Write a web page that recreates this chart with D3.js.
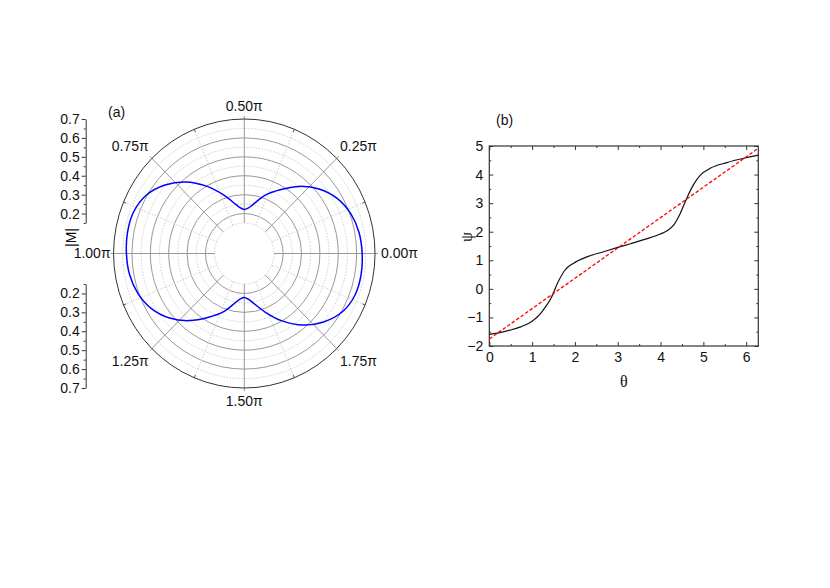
<!DOCTYPE html>
<html>
<head>
<meta charset="utf-8">
<script src="https://cdn.jsdelivr.net/npm/d3@7"></script>
<style>
  html, body { margin: 0; padding: 0; background: #fff; }
  svg { display: block; font-family: "Liberation Sans", Arial, sans-serif; }
</style>
</head>
<body>
<div id="chart"></div>
<script>
// (a) polar |M| vs angle, degrees -> |M|
const polarAngles = [0, 10, 20, 30, 40, 50, 60, 70, 80, 85, 90, 95, 100, 110, 120, 130, 140, 150, 160, 170,
                     180, 190, 200, 210, 220, 230, 240, 250, 260, 265, 270, 275, 280, 290, 300, 310, 320, 330, 340, 350];
const polarM = [0.630, 0.623, 0.605, 0.572, 0.520, 0.452, 0.378, 0.316, 0.250, 0.230, 0.222, 0.231, 0.252, 0.318, 0.400, 0.483, 0.552, 0.605, 0.630, 0.634,
                0.630, 0.623, 0.605, 0.572, 0.520, 0.452, 0.378, 0.316, 0.250, 0.230, 0.222, 0.231, 0.252, 0.318, 0.400, 0.483, 0.552, 0.605, 0.630, 0.634];
const radialTicks = [0.2, 0.3, 0.4, 0.5, 0.6, 0.7];
const radialMinor = [0.15, 0.25, 0.35, 0.45, 0.55, 0.65];
const angleLabels = ["0.00π", "0.25π", "0.50π", "0.75π", "1.00π", "1.25π", "1.50π", "1.75π"];

// (b) psi vs theta
const thetaVals = [0, 0.25, 0.5, 0.75, 0.9, 1.0, 1.1, 1.2, 1.3, 1.45, 1.6, 1.77, 1.97, 2.28, 2.67, 3.0, 3.3, 3.65, 4.0, 4.15, 4.3, 4.46, 4.62, 4.77, 4.93, 5.16, 5.55, 5.94, 6.283];
const psiVals = [-1.59, -1.53, -1.44, -1.32, -1.22, -1.13, -1.01, -0.86, -0.66, -0.3, 0.22, 0.66, 0.9, 1.12, 1.30, 1.45, 1.58, 1.74, 1.92, 2.03, 2.22, 2.64, 3.2, 3.65, 3.98, 4.22, 4.42, 4.57, 4.68];
const fitTheta = [0, 2 * Math.PI];
const fitPsi = [-1.755, 4.92];
const xTicks = [0, 1, 2, 3, 4, 5, 6];
const yTicks = [-2, -1, 0, 1, 2, 3, 4, 5];

const width = 830, height = 588;
const fontSize = "14px";
const svg = d3.select("#chart").append("svg")
    .attr("width", width)
    .attr("height", height);

// ---------- (a) polar ----------
const cx = 244.3, cy = 253.5, sx = 0.972;
const r = d3.scaleLinear().domain([0.15, 0.7]).range([30.5, 134.5]);
const R = r(0.7);

const polar = svg.append("g").attr("transform", `translate(${cx},${cy}) scale(${sx},1)`);

// grid circles
polar.append("g").selectAll("circle")
    .data(radialMinor)
    .join("circle")
    .attr("r", d => r(d))
    .attr("fill", "none")
    .attr("stroke", "#cfcfcf")
    .attr("stroke-dasharray", "1.5,1.5")
    .attr("vector-effect", "non-scaling-stroke");

polar.append("g").selectAll("circle")
    .data(radialTicks.slice(0, -1))
    .join("circle")
    .attr("r", d => r(d))
    .attr("fill", "none")
    .attr("stroke", "#999")
    .attr("vector-effect", "non-scaling-stroke");

// spokes
const majorAngles = d3.range(8).map(i => i * Math.PI / 4);
const minorAngles = d3.range(8).map(i => i * Math.PI / 4 + Math.PI / 8);

polar.append("g").selectAll("line")
    .data(minorAngles)
    .join("line")
    .attr("x1", a => r(0.15) * Math.cos(a)).attr("y1", a => -r(0.15) * Math.sin(a))
    .attr("x2", a => R * Math.cos(a)).attr("y2", a => -R * Math.sin(a))
    .attr("stroke", "#cfcfcf")
    .attr("stroke-dasharray", "1.5,1.5")
    .attr("vector-effect", "non-scaling-stroke");

polar.append("g").selectAll("line")
    .data(majorAngles)
    .join("line")
    .attr("x1", a => r(0.15) * Math.cos(a)).attr("y1", a => -r(0.15) * Math.sin(a))
    .attr("x2", a => (R + 3) * Math.cos(a)).attr("y2", a => -(R + 3) * Math.sin(a))
    .attr("stroke", "#999")
    .attr("vector-effect", "non-scaling-stroke");

// minor ticks on outer circle
polar.append("g").selectAll("line")
    .data(minorAngles)
    .join("line")
    .attr("x1", a => (R - 3) * Math.cos(a)).attr("y1", a => -(R - 3) * Math.sin(a))
    .attr("x2", a => R * Math.cos(a)).attr("y2", a => -R * Math.sin(a))
    .attr("stroke", "#555")
    .attr("vector-effect", "non-scaling-stroke");

polar.append("circle")
    .attr("r", R)
    .attr("fill", "none")
    .attr("stroke", "#333")
    .attr("vector-effect", "non-scaling-stroke");

// |M| curve
const radial = d3.lineRadial()
    .angle(d => Math.PI / 2 - d.a * Math.PI / 180)
    .radius(d => r(d.m))
    .curve(d3.curveCatmullRomClosed);

polar.append("path")
    .datum(polarAngles.map((a, i) => ({ a, m: polarM[i] })))
    .attr("d", radial)
    .attr("fill", "none")
    .attr("stroke", "#0000ff")
    .attr("stroke-width", 1.5)
    .attr("vector-effect", "non-scaling-stroke");

// angle labels
svg.append("g")
    .attr("font-size", fontSize)
    .attr("fill", "#111")
    .selectAll("text")
    .data(angleLabels)
    .join("text")
    .each(function (d, i) {
        const a = i * Math.PI / 4;
        const c = Math.round(Math.cos(a) * 100) / 100, s = Math.round(Math.sin(a) * 100) / 100;
        const t = d3.select(this);
        if (s === 0) {
            t.attr("x", cx + c * (R * sx + (c > 0 ? 6 : 3))).attr("y", cy).attr("dy", "0.35em")
             .attr("text-anchor", c > 0 ? "start" : "end");
        } else if (c === 0) {
            t.attr("x", cx).attr("y", cy - s * (R + 13)).attr("dy", "0.35em")
             .attr("text-anchor", "middle");
        } else {
            t.attr("x", cx + c * (R * sx + 30)).attr("y", cy - s * (R + 17)).attr("dy", "0.35em")
             .attr("text-anchor", "middle");
        }
    })
    .text(d => d);

// radial axes on the left
const axX = 85.7;
const upper = d3.scaleLinear().domain([0.15, 0.7]).range([cy - r(0.15), cy - R]);
const lower = d3.scaleLinear().domain([0.15, 0.7]).range([cy + r(0.15), cy + R]);

[upper, lower].forEach(sc => {
    const g = svg.append("g").attr("transform", `translate(${axX},0)`);
    g.call(d3.axisLeft(sc).tickValues(radialTicks).tickFormat(d3.format(".1f")).tickSize(4).tickSizeOuter(0).tickPadding(2));
    g.append("g").call(d3.axisLeft(sc).tickValues(radialMinor).tickFormat("").tickSize(2).tickSizeOuter(0))
        .call(g => g.select(".domain").remove());
    g.selectAll("path, line").attr("stroke", "#333");
    g.selectAll("text").attr("font-size", fontSize).attr("font-family", "Liberation Sans, Arial, sans-serif").attr("fill", "#111");
});

svg.append("text")
    .attr("transform", `translate(76,${cy - 16}) rotate(-90)`)
    .attr("text-anchor", "middle")
    .attr("font-size", fontSize)
    .attr("fill", "#111")
    .text("|M|");

svg.append("text")
    .attr("x", 108).attr("y", 117)
    .attr("font-size", fontSize)
    .attr("fill", "#111")
    .text("(a)");

// ---------- (b) psi(theta) ----------
const x = d3.scaleLinear().domain([0, 2 * Math.PI]).range([489.3, 758.3]);
const y = d3.scaleLinear().domain([-2, 5]).range([346, 146]);
const [x0, x1] = x.range();
const [y0, y1] = y.range();

const xMinor = d3.range(0.5, 6.3, 1);
const yMinor = d3.range(-1.5, 5, 1);

function styleAxis(g) {
    g.select(".domain").remove();
    g.selectAll("line").attr("stroke", "#333");
    g.selectAll("text").attr("font-size", fontSize).attr("font-family", "Liberation Sans, Arial, sans-serif").attr("fill", "#111");
}

svg.append("g").attr("transform", `translate(0,${y0})`)
    .call(d3.axisBottom(x).tickValues(xTicks).tickFormat(d3.format("d")).tickSize(-4).tickPadding(6))
    .call(styleAxis);
svg.append("g").attr("transform", `translate(0,${y0})`)
    .call(d3.axisBottom(x).tickValues(xMinor).tickFormat("").tickSize(-2))
    .call(styleAxis);
svg.append("g").attr("transform", `translate(0,${y1})`)
    .call(d3.axisTop(x).tickValues(xTicks).tickFormat("").tickSize(-4))
    .call(styleAxis);
svg.append("g").attr("transform", `translate(0,${y1})`)
    .call(d3.axisTop(x).tickValues(xMinor).tickFormat("").tickSize(-2))
    .call(styleAxis);

svg.append("g").attr("transform", `translate(${x0},0)`)
    .call(d3.axisLeft(y).tickValues(yTicks).tickFormat(d3.format("d")).tickSize(-4).tickPadding(6))
    .call(styleAxis);
svg.append("g").attr("transform", `translate(${x0},0)`)
    .call(d3.axisLeft(y).tickValues(yMinor).tickFormat("").tickSize(-2))
    .call(styleAxis);
svg.append("g").attr("transform", `translate(${x1},0)`)
    .call(d3.axisRight(y).tickValues(yTicks).tickFormat("").tickSize(-4))
    .call(styleAxis);
svg.append("g").attr("transform", `translate(${x1},0)`)
    .call(d3.axisRight(y).tickValues(yMinor).tickFormat("").tickSize(-2))
    .call(styleAxis);

svg.append("rect")
    .attr("x", x0).attr("y", y1)
    .attr("width", x1 - x0).attr("height", y0 - y1)
    .attr("fill", "none")
    .attr("stroke", "#333")
    .attr("stroke-width", 1.2);

const line = d3.line()
    .x(d => x(d[0]))
    .y(d => y(d[1]))
    .curve(d3.curveMonotoneX);

svg.append("path")
    .datum(thetaVals.map((t, i) => [t, psiVals[i]]))
    .attr("d", line)
    .attr("fill", "none")
    .attr("stroke", "#111")
    .attr("stroke-width", 1.2);

svg.append("path")
    .datum(fitTheta.map((t, i) => [t, fitPsi[i]]))
    .attr("d", d3.line().x(d => x(d[0])).y(d => y(d[1])))
    .attr("fill", "none")
    .attr("stroke", "#ff0000")
    .attr("stroke-width", 1.3)
    .attr("stroke-dasharray", "3.5,2");

svg.append("text")
    .attr("x", (x0 + x1) / 2).attr("y", 387)
    .attr("text-anchor", "middle")
    .attr("font-family", "Liberation Serif, serif")
    .attr("font-size", "16px")
    .attr("fill", "#111")
    .text("θ");

svg.append("text")
    .attr("transform", `translate(472,${(y0 + y1) / 2 - 9}) rotate(-90)`)
    .attr("text-anchor", "middle")
    .attr("font-family", "Liberation Serif, serif")
    .attr("font-size", "16px")
    .attr("fill", "#111")
    .text("ψ");

svg.append("text")
    .attr("x", 496).attr("y", 125)
    .attr("font-size", fontSize)
    .attr("fill", "#111")
    .text("(b)");
</script>
</body>
</html>
